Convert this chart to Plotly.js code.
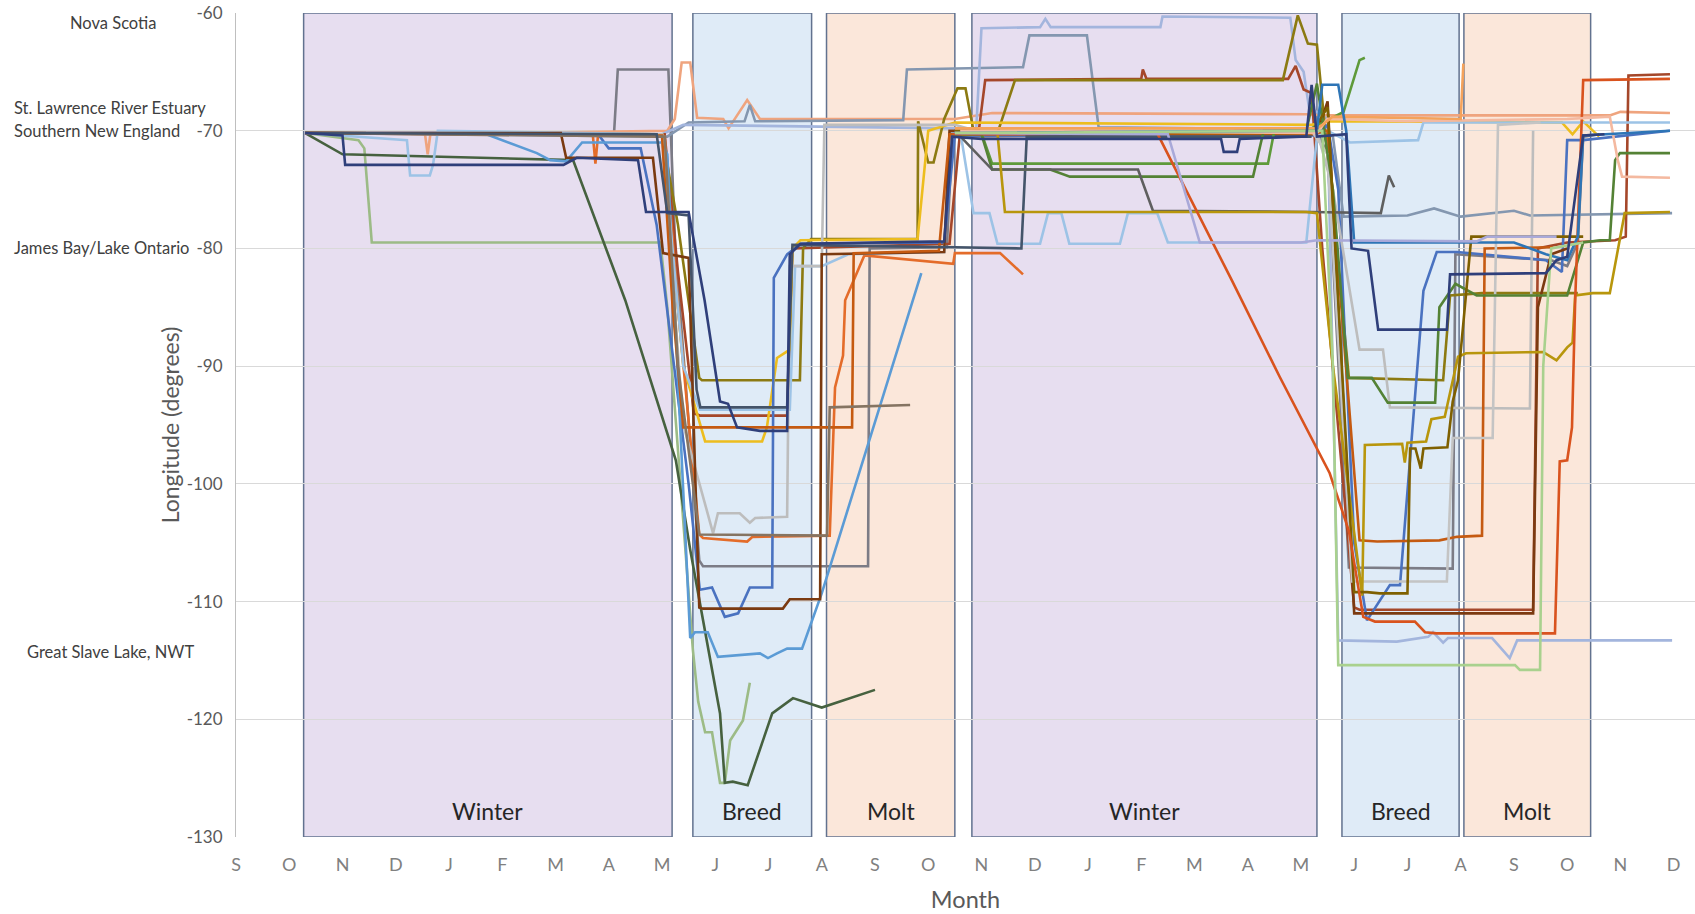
<!DOCTYPE html>
<html><head><meta charset="utf-8">
<script src="https://cdn.plot.ly/plotly-3.0.1.min.js"></script>
<style>html,body{margin:0;padding:0;background:#fff;} #chart{width:1695px;height:914px;}</style>
</head><body><div id="chart"></div>
<script>
// ---------- categories / labels ----------
const monthLabels = ['S','O','N','D','J','F','M','A','M','J','J','A','S','O','N','D','J','F','M','A','M','J','J','A','S','O','N','D'];
const lonTicks = [-130, -120, -110, -100, -90, -80, -70, -60];
const lonTickText = ['-130','-120','-110','-100','-90','-80','-70','-60'];
const seasonNames = ['Winter','Breed','Molt','Winter','Breed','Molt'];
const seasonStart = [1.27, 8.58, 11.09, 13.82, 20.77, 23.06];   // month index
const seasonEnd   = [8.19, 10.81, 13.50, 20.30, 22.97, 25.44];
const placeNames = ['Nova Scotia','St. Lawrence River Estuary','Southern New England','James Bay/Lake Ontario','Great Slave Lake, NWT'];
const placeLon   = [-60.85, -68.07, -70.03, -79.97, -114.3];

// ---------- tracks: month index (0 = Sep, year 1) and longitude ----------
const birdA_m = [1.3,2.0,2.05,6.15,6.4,7.55,7.7,8.5,8.8,9.09,9.24,9.41,9.84,10.35,10.4,10.6,13.3,13.45,14.0,18.5,18.55,18.8,18.85,20.1,20.2,20.3,20.85,20.95,21.26,21.45,22.74,22.8,24.6,24.8,25.0,25.3,25.7];
const birdA_lon = [-70.2,-70.4,-72.9,-72.9,-72.3,-72.5,-76.9,-76.9,-84.4,-93.0,-93.2,-95.2,-95.5,-95.5,-80.5,-79.6,-79.4,-70.5,-70.7,-70.7,-71.8,-71.8,-70.7,-70.5,-66.1,-70.5,-70.3,-80.0,-80.2,-86.9,-86.9,-82.2,-82.1,-81.0,-80.7,-70.4,-70.3];
const birdB_m = [1.3,2.0,6.33,7.31,8.26,8.53,9.09,9.18,9.33,9.61,10.07,10.46,11.0,12.0];
const birdB_lon = [-70.2,-72.0,-72.5,-84.4,-98.0,-105.6,-119.5,-125.4,-125.3,-125.6,-119.5,-118.2,-119.0,-117.5];
const birdC_m = [1.3,2.3,2.41,2.55,7.97,8.1,8.58,8.68,8.81,8.94,9.09,9.18,9.28,9.41,9.52,9.65];
const birdC_lon = [-70.2,-70.8,-71.5,-79.5,-79.5,-85.0,-114.1,-118.5,-121.1,-121.1,-125.4,-125.4,-121.8,-120.9,-120.1,-116.9];
const birdD_m = [1.3,7.1,7.17,8.12,8.25,8.7,8.77,11.87,11.9,13.35,13.45,20.2,20.3,20.5,20.9,22.85,22.9,24.7,25.0,25.2,25.3,25.6];
const birdD_lon = [-70.2,-70.2,-64.8,-64.8,-80.0,-106.5,-107.0,-107.0,-80.0,-79.9,-70.5,-70.3,-70.0,-72.0,-107.1,-107.2,-80.5,-81.0,-81.5,-79.5,-70.5,-70.3];
const birdE_m = [1.3,3.55,3.6,3.65,8.1,8.24,8.37,8.53,8.66,9.15,9.25,9.35,9.6,9.84,11.1,13.5,14.2,20.1,20.5,25.8,26.0,26.93];
const birdE_lon = [-70.2,-70.3,-72.0,-70.3,-70.0,-69.0,-64.2,-64.2,-68.9,-69.0,-69.8,-69.1,-67.4,-69.0,-69.0,-69.0,-68.5,-68.6,-68.7,-68.7,-68.4,-68.5];
const birdF_m = [1.3,8.1,8.5,9.55,9.65,9.75,12.53,12.6,14.78,14.9,15.98,16.2,20.3,20.6,20.8,22.0,22.5,23.0,24.0,24.3,26.97];
const birdF_lon = [-70.2,-70.5,-69.3,-69.2,-67.8,-69.2,-69.1,-64.8,-64.6,-61.9,-61.9,-69.7,-69.9,-70.5,-77.3,-77.2,-76.6,-77.3,-76.8,-77.2,-77.0];
const birdG_m = [1.3,8.0,8.4,13.5,13.9,14.0,15.1,15.2,15.3,17.36,17.4,19.8,19.9,20.05,20.15,20.5,20.7,21.8,22.39,22.48,22.67,22.76,23.59,23.92,24.06,26.97];
const birdG_lon = [-70.2,-70.3,-69.5,-69.8,-70.0,-61.3,-61.2,-60.5,-61.2,-61.2,-60.3,-60.4,-64.0,-65.0,-68.0,-69.0,-113.3,-113.4,-113.0,-112.6,-113.5,-113.1,-113.1,-114.8,-113.3,-113.3];
const birdH_m = [1.3,8.05,8.3,8.6,8.71,10.35,10.45,13.4,13.6,13.95,14.07,17.0,17.03,17.1,19.76,19.9,20.05,20.2,20.4,21.0,21.1,24.36,24.45,25.0,25.9,26.1,26.15,26.93];
const birdH_lon = [-70.2,-70.3,-82.0,-94.0,-94.2,-94.2,-80.0,-79.6,-70.0,-70.0,-65.7,-65.6,-64.8,-65.6,-65.6,-64.5,-66.5,-66.8,-80.0,-110.5,-110.7,-110.7,-80.0,-79.5,-79.3,-79.0,-65.3,-65.2];
const birdI_m = [1.3,8.0,8.3,8.7,8.75,10.59,10.65,10.8,12.8,12.81,13.0,13.1,13.3,13.55,13.7,13.85,14.3,14.63,19.66,19.94,20.13,20.3,20.9,22.67,22.8,23.4,25.2];
const birdI_lon = [-70.2,-70.3,-78.0,-91.0,-91.2,-91.2,-80.0,-79.2,-79.2,-69.2,-72.7,-72.7,-69.0,-66.4,-66.4,-70.0,-70.2,-65.7,-65.7,-60.2,-62.6,-62.7,-91.0,-91.2,-84.0,-83.8,-83.8];
const birdJ_m = [1.3,8.0,8.4,8.81,9.88,9.97,10.16,10.4,10.45,10.6,12.8,13.0,13.5,20.2,20.5,24.9,25.1,25.3,25.6];
const birdJ_lon = [-70.2,-70.3,-90.0,-96.4,-96.4,-95.2,-89.3,-88.6,-80.0,-79.3,-79.2,-70.0,-69.3,-69.5,-69.2,-69.3,-70.3,-69.2,-70.5];
const birdK_m = [1.3,6.7,6.75,6.8,8.05,8.3,8.7,8.77,9.6,9.7,11.15,11.25,11.4,11.44,11.8,13.47,13.5,14.35,14.78];
const birdK_lon = [-70.2,-70.3,-72.8,-70.3,-70.5,-85.0,-104.3,-104.6,-104.9,-104.5,-104.4,-91.8,-89.1,-84.4,-80.6,-81.3,-80.4,-80.4,-82.2];
const birdL_m = [1.3,6.8,7.0,7.6,7.9,8.5,8.71,8.94,9.18,9.43,9.65,10.07,10.1,10.35,10.6,13.3,13.5,20.3,20.5,20.7,21.0,21.24,21.67,21.86,22.3,22.55,22.93,24.6,24.9,25.0,25.3,26.93];
const birdL_lon = [-70.2,-70.3,-71.5,-71.5,-78.0,-100.0,-109.0,-108.8,-111.3,-111.0,-108.8,-108.8,-82.5,-80.5,-79.6,-79.5,-70.4,-70.4,-69.5,-75.0,-105.0,-111.6,-108.6,-108.6,-83.6,-80.3,-80.3,-81.0,-82.0,-70.8,-70.8,-70.0];
const birdM_m = [1.3,4.64,5.65,5.9,6.2,6.5,8.0,8.1,8.53,8.62,8.86,9.05,9.84,9.99,10.16,10.35,10.63,11.0,12.87];
const birdM_lon = [-70.2,-70.2,-71.9,-72.5,-72.6,-71.0,-71.0,-72.0,-113.1,-112.6,-112.6,-114.7,-114.4,-114.8,-114.4,-114.0,-114.0,-109.3,-82.1];
const birdN_m = [1.3,3.21,3.27,3.64,3.7,3.79,8.0,8.4,8.71,10.4,10.5,11.0,11.5,13.3,13.4,13.6,13.85,14.15,14.3,15.1,15.25,15.5,15.65,16.6,16.75,17.3,17.5,20.1,20.3,20.5,20.92,22.2,22.3,26.93];
const birdN_lon = [-70.2,-70.8,-73.8,-73.8,-72.9,-70.0,-70.3,-90.0,-93.7,-93.7,-81.5,-81.5,-80.5,-80.3,-70.2,-70.0,-77.0,-77.0,-79.6,-79.6,-77.0,-77.0,-79.6,-79.6,-77.0,-77.0,-79.5,-79.5,-70.5,-70.0,-71.0,-70.8,-69.3,-69.3];
const birdO_m = [1.3,8.0,8.4,8.96,9.05,9.46,9.65,9.75,10.35,10.4,11.0,11.05,13.5,13.9,20.3,20.6,21.1,21.54,21.67,24.3,24.36];
const birdO_lon = [-70.2,-70.3,-95.0,-104.2,-102.5,-102.5,-103.3,-102.9,-102.8,-81.5,-81.5,-69.5,-69.5,-70.0,-70.0,-75.0,-88.6,-88.6,-93.5,-93.6,-70.0];
const birdP_m = [1.3,6.1,6.2,7.83,8.02,8.5,8.7,8.77,10.27,10.4,10.97,11.0,13.3,13.4,20.3,20.5,21.0,24.36,24.45,24.7,25.0];
const birdP_lon = [-70.2,-70.2,-72.3,-72.3,-80.4,-80.8,-110.5,-110.6,-110.6,-109.8,-109.8,-80.5,-80.3,-70.0,-70.3,-67.5,-111.0,-111.0,-85.0,-80.5,-80.0];
const birdQ_m = [1.3,8.0,8.2,8.4,11.57,11.6,13.2,13.4,20.2,20.5,21.1,21.43,22.6,22.93,23.4,23.45,24.73];
const birdQ_lon = [-70.2,-70.4,-85.0,-95.2,-95.2,-80.4,-80.2,-70.3,-70.3,-70.0,-104.8,-104.9,-104.8,-104.5,-104.4,-80.0,-79.9];
const birdR_m = [1.3,8.05,8.3,8.7,11.1,11.15,12.66];
const birdR_lon = [-70.2,-70.5,-90.0,-104.3,-104.4,-93.5,-93.3];
const birdS_m = [1.3,7.9,8.1,8.5,8.65,8.72,10.35,10.45,13.5,14.75,14.85,20.2];
const birdS_lon = [-70.2,-70.3,-77.0,-77.2,-92.0,-93.5,-93.5,-79.7,-79.9,-80.0,-70.5,-70.5];
const birdS2_m = [20.2,20.5,20.96,22.74,22.85,23.6,23.7,24.5];
const birdS2_lon = [-70.0,-72.0,-108.3,-108.3,-96.1,-96.1,-69.5,-69.3];
const birdT_m = [13.45,14.0,14.2,19.38,19.5,20.2,20.8,21.1,21.2];
const birdT_lon = [-70.5,-70.2,-72.8,-72.8,-70.0,-69.8,-68.4,-64.0,-63.8];
const birdU_m = [13.45,14.0,14.2,15.29,15.66,19.1,19.3,20.1,20.3,20.6,20.88,21.33,21.63,22.52,22.6,22.9,23.3,25.0,25.3,25.62,25.8,25.9,25.99,26.93];
const birdU_lon = [-70.3,-70.3,-73.3,-73.3,-73.9,-73.9,-70.0,-70.0,-66.0,-75.0,-91.0,-91.0,-93.1,-93.1,-85.0,-83.0,-84.0,-84.0,-79.5,-79.3,-79.3,-72.5,-71.9,-71.9];
const birdV_m = [13.5,14.2,16.94,17.22,20.2,21.5,21.65,21.75];
const birdV_lon = [-70.0,-73.3,-73.3,-76.8,-76.9,-77.0,-73.8,-74.8];
const birdW_m = [13.5,14.3,14.44,20.1,20.3,20.6,21.15,21.2,21.9,21.95,22.0,22.35,22.45,22.7,22.95,23.1,24.55,24.8,25.0,25.1,25.15,25.48,25.8,26.08,26.93];
const birdW_lon = [-70.0,-70.2,-76.9,-76.9,-77.0,-90.0,-109.5,-96.7,-96.6,-98.2,-96.5,-96.4,-94.5,-94.3,-89.2,-88.9,-88.8,-89.5,-88.4,-88.0,-84.0,-83.8,-83.8,-77.0,-76.9];
const birdX_m = [13.5,14.0,20.2,20.5,21.0,21.24,21.48,22.0,22.05,22.15,22.25,22.3,22.75,22.85,22.95,23.2,25.3];
const birdX_lon = [-70.0,-70.2,-70.2,-68.0,-109.2,-109.2,-109.3,-109.3,-97.0,-97.0,-98.7,-97.0,-96.9,-93.0,-91.2,-79.0,-79.0];
const birdY_m = [13.45,17.3,18.7,19.6,20.54,20.9,21.17,21.39,22.14,22.33,22.55,24.77,24.86,25.0,25.09,25.15,25.3,26.93];
const birdY_lon = [-70.3,-70.2,-82.7,-90.9,-99.1,-104.0,-111.3,-111.7,-111.7,-112.6,-112.7,-112.7,-98.1,-98.0,-95.2,-84.4,-65.7,-65.6];
const birdZ_m = [13.6,20.3,20.5,22.0,25.0,25.8,25.95,26.03,26.93];
const birdZ_lon = [-70.0,-70.2,-69.0,-69.2,-69.0,-68.8,-72.5,-73.9,-74.0];
const birdAA_m = [13.5,20.3,20.4,20.6,23.0,23.05];
const birdAA_lon = [-69.8,-69.8,-69.5,-68.8,-69.0,-64.3];
const birdAB_m = [13.5,20.3,20.4,20.7,20.85,21.0,24.0,24.6,25.0,25.2,25.3,26.93];
const birdAB_lon = [-70.2,-70.0,-66.1,-66.1,-70.0,-79.5,-79.5,-80.5,-81.0,-79.0,-70.4,-70.0];
const birdAC_m = [13.5,17.5,18.1,20.0,20.3,23.3,23.5,24.8];
const birdAC_lon = [-70.2,-70.3,-79.5,-79.5,-79.3,-79.4,-79.0,-79.0];
const birdAD_m = [13.5,20.4,20.6,20.7,22.99,24.02,24.11,24.49,24.55,24.7,25.3];
const birdAD_lon = [-70.2,-70.0,-90.0,-115.4,-115.4,-115.4,-115.8,-115.8,-90.0,-80.0,-79.5];

// ---------- styling ----------
const tracks = [
  [birdC_m, birdC_lon, '#9CBB86'], [birdB_m, birdB_lon, '#46613F'],
  [birdD_m, birdD_lon, '#7C7C86'], [birdE_m, birdE_lon, '#EFA47E'],
  [birdF_m, birdF_lon, '#8497B0'], [birdG_m, birdG_lon, '#A3B5DD'],
  [birdH_m, birdH_lon, '#A5472A'], [birdI_m, birdI_lon, '#8C7A12'],
  [birdJ_m, birdJ_lon, '#EDBD1E'], [birdK_m, birdK_lon, '#E46C2A'],
  [birdL_m, birdL_lon, '#4A72C0'], [birdM_m, birdM_lon, '#5B9BD5'],
  [birdN_m, birdN_lon, '#9DC3E6'], [birdO_m, birdO_lon, '#BDBDBD'],
  [birdP_m, birdP_lon, '#7B3A10'], [birdQ_m, birdQ_lon, '#C55A11'],
  [birdR_m, birdR_lon, '#857462'], [birdS_m, birdS_lon, '#44546A'],
  [birdS2_m, birdS2_lon, '#C4C4C4'], [birdT_m, birdT_lon, '#5E9A3A'],
  [birdU_m, birdU_lon, '#548235'], [birdV_m, birdV_lon, '#5F5F5F'],
  [birdW_m, birdW_lon, '#B8960C'], [birdX_m, birdX_lon, '#7F6000'],
  [birdY_m, birdY_lon, '#D9531E'], [birdZ_m, birdZ_lon, '#F4B9A0'],
  [birdAA_m, birdAA_lon, '#F5A25A'], [birdAB_m, birdAB_lon, '#2E75B6'],
  [birdAC_m, birdAC_lon, '#A9A9D9'], [birdAD_m, birdAD_lon, '#A9D18E'],
  [birdA_m, birdA_lon, '#2F3F7A']
];
const data = tracks.map(t => ({
  type: 'scatter', mode: 'lines', x: t[0], y: t[1],
  line: {color: t[2], width: 2.6}, hoverinfo: 'skip', showlegend: false
}));

const seasonFill = {Winter: '#E7DEF0', Breed: '#DFEBF7', Molt: '#FBE7DA'};
const shapes = seasonNames.map((s, i) => ({
  type: 'rect', xref: 'x', yref: 'y', layer: 'below',
  x0: seasonStart[i], x1: seasonEnd[i], y0: -130, y1: -60,
  fillcolor: seasonFill[s], line: {color: '#62728F', width: 1.5}
}));

const FONT = 'Lato, "Open Sans", "Liberation Sans", sans-serif';
const annotations = seasonNames.map((s, i) => ({
  xref: 'x', yref: 'y', x: (seasonStart[i] + seasonEnd[i]) / 2, y: -127.8,
  text: s, showarrow: false, font: {family: FONT, size: 23, color: '#262626'}
}));
const placeX = [-0.0843, -0.1535, -0.1535, -0.1535, -0.1445];
const placeAnchor = ['center', 'left', 'left', 'left', 'left'];
placeNames.forEach((p, i) => annotations.push({
  xref: 'paper', yref: 'y', x: placeX[i], y: placeLon[i], xanchor: placeAnchor[i], yanchor: 'middle',
  text: p, showarrow: false, font: {family: FONT, size: 16.5, color: '#404040'}
}));

const layout = {
  width: 1695, height: 914,
  margin: {l: 236, r: 0, t: 13, b: 77},
  paper_bgcolor: '#ffffff', plot_bgcolor: 'rgba(0,0,0,0)',
  font: {family: FONT},
  showlegend: false,
  xaxis: {
    range: [0, 27.4], tickvals: monthLabels.map((_, i) => i), ticktext: monthLabels,
    showgrid: false, zeroline: false, showline: false, ticks: '',
    tickfont: {family: FONT, size: 18, color: '#808080'}, ticklabelstandoff: 15,
    title: {text: 'Month', font: {family: FONT, size: 23.5, color: '#595959'}, standoff: 17}
  },
  yaxis: {
    range: [-130, -60], tickvals: lonTicks, ticktext: lonTickText,
    showgrid: true, gridcolor: '#D9D9D9', gridwidth: 1,
    zeroline: false, showline: true, linecolor: '#BFBFBF', linewidth: 1, ticks: '',
    tickfont: {family: FONT, size: 17, color: '#595959'}, ticklabelstandoff: 9,
    title: {text: 'Longitude (degrees)', font: {family: FONT, size: 23, color: '#595959'}, standoff: 0}
  },
  shapes: shapes,
  annotations: annotations
};
Plotly.newPlot('chart', data, layout, {displayModeBar: false, staticPlot: true});
</script></body></html>
